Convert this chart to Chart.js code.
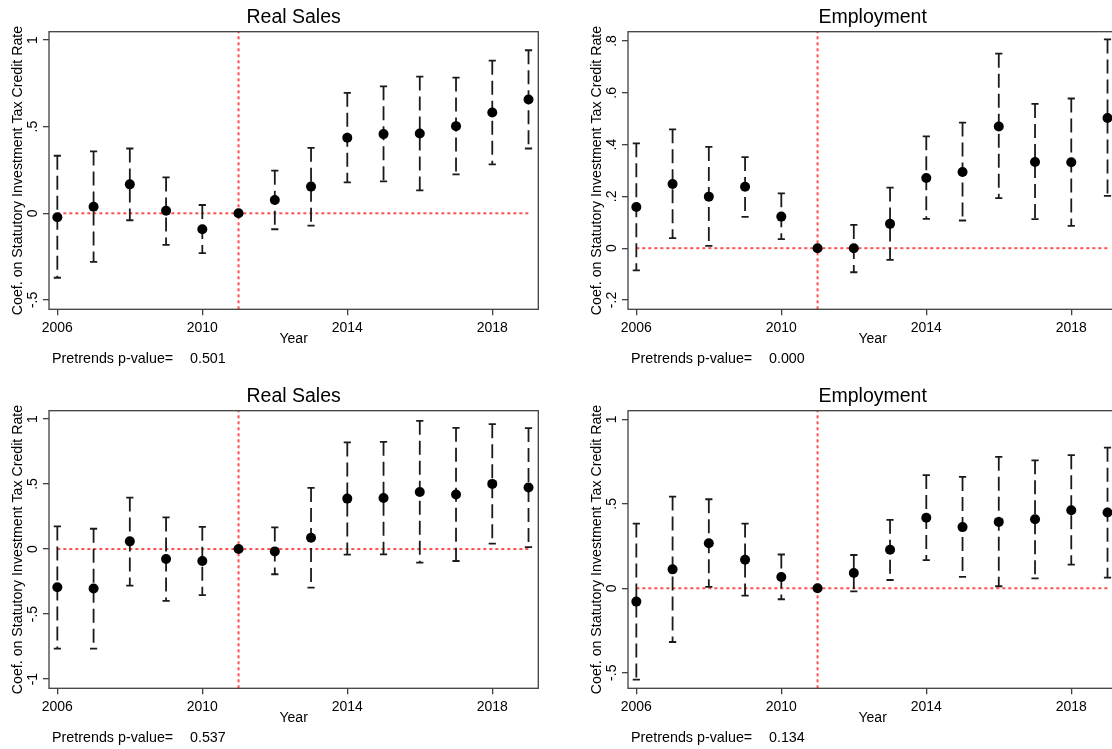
<!DOCTYPE html>
<html>
<head>
<meta charset="utf-8">
<script src="https://cdn.jsdelivr.net/npm/chart.js@4/dist/chart.umd.min.js"></script>
<style>
    html, body { margin: 0; padding: 0; background: #fff; overflow: hidden; }
    body { width: 1112px; height: 749px; position: relative; }
    canvas { position: absolute; }
</style>
</head>
<body>
<canvas id="salesTop" width="556" height="372" style="left:0;top:0"></canvas>
<canvas id="empTop" width="556" height="372" style="left:579px;top:0"></canvas>
<canvas id="salesBottom" width="556" height="372" style="left:0;top:379px"></canvas>
<canvas id="empBottom" width="556" height="372" style="left:579px;top:379px"></canvas>
<script>
const years = [2006, 2007, 2008, 2009, 2010, 2011, 2012, 2013, 2014, 2015, 2016, 2017, 2018, 2019];
const xTicks = [2006, 2010, 2014, 2018];
const eventYear = 2011;

// top row
const salesTop = [-0.023, 0.038, 0.167, 0.015, -0.092, 0, 0.077, 0.154, 0.436, 0.457, 0.461, 0.503, 0.582, 0.657];
const salesTopHi = [0.332, 0.357, 0.374, 0.207, 0.048, null, 0.246, 0.378, 0.695, 0.733, 0.789, 0.783, 0.881, 0.941];
const salesTopLo = [-0.372, -0.280, -0.040, -0.182, -0.230, null, -0.092, -0.071, 0.179, 0.184, 0.132, 0.225, 0.282, 0.374];
const salesTopTicks = [-0.5, 0, 0.5, 1];

const empTop = [0.159, 0.248, 0.199, 0.237, 0.122, 0, 0.0, 0.094, 0.271, 0.294, 0.470, 0.333, 0.332, 0.503];
const empTopHi = [0.405, 0.459, 0.391, 0.352, 0.212, null, 0.090, 0.234, 0.432, 0.485, 0.751, 0.557, 0.578, 0.806];
const empTopLo = [-0.086, 0.039, 0.009, 0.121, 0.035, null, -0.093, -0.045, 0.113, 0.107, 0.193, 0.112, 0.086, 0.202];
const empTopTicks = [-0.2, 0, 0.2, 0.4, 0.6, 0.8];

// bottom row
const salesBottom = [-0.294, -0.304, 0.059, -0.077, -0.092, 0, -0.018, 0.087, 0.388, 0.393, 0.439, 0.419, 0.501, 0.473];
const salesBottomHi = [0.174, 0.156, 0.396, 0.243, 0.171, null, 0.166, 0.470, 0.820, 0.825, 0.986, 0.932, 0.960, 0.930];
const salesBottomLo = [-0.766, -0.766, -0.281, -0.398, -0.355, null, -0.194, -0.296, -0.043, -0.041, -0.105, -0.092, 0.041, 0.015];
const salesBottomTicks = [-1, -0.5, 0, 0.5, 1];

const empBottom = [-0.079, 0.112, 0.267, 0.169, 0.067, 0, 0.090, 0.228, 0.417, 0.362, 0.393, 0.409, 0.462, 0.448];
const empBottomHi = [0.383, 0.543, 0.527, 0.383, 0.200, null, 0.197, 0.405, 0.670, 0.659, 0.778, 0.757, 0.788, 0.832];
const empBottomLo = [-0.541, -0.318, 0.008, -0.043, -0.065, null, -0.018, 0.049, 0.167, 0.067, 0.012, 0.059, 0.140, 0.063];
const empBottomTicks = [-0.5, 0, 0.5, 1];

const pValues = ['0.501', '0.000', '0.537', '0.134'];

const FONT = '"Liberation Sans", Arial, sans-serif';
Chart.defaults.font.family = FONT;
Chart.defaults.color = '#000';

// stata style labels: .5 instead of 0.5
function fmt(v) {
    return String(Math.round(v * 100) / 100).replace(/^(-?)0\./, '$1.');
}

// frame, panel title, rotated y labels and the p-value note
const frame = {
    id: 'frame',
    afterDraw(chart, args, opts) {
        const { ctx, chartArea: a } = chart;
        const y = chart.scales.y;
        ctx.save();
        ctx.strokeStyle = '#404040';
        ctx.lineWidth = 1.3;
        ctx.strokeRect(a.left, a.top, a.right - a.left, a.bottom - a.top);

        ctx.fillStyle = '#000';
        ctx.textAlign = 'center';
        ctx.textBaseline = 'middle';
        ctx.font = '19.5px ' + FONT;
        ctx.fillText(opts.title, (a.left + a.right) / 2, 18);

        ctx.font = '14px ' + FONT;
        ctx.textBaseline = 'alphabetic';
        y.ticks.forEach(t => {
            ctx.save();
            ctx.translate(a.left - 12.5, y.getPixelForValue(t.value));
            ctx.rotate(-Math.PI / 2);
            ctx.fillText(fmt(t.value), 0, 0);
            ctx.restore();
        });

        ctx.textAlign = 'left';
        ctx.textBaseline = 'middle';
        ctx.font = '14.3px ' + FONT;
        ctx.fillText('Pretrends p-value=', 52, 359.5);
        ctx.fillText(opts.p, 190, 359.5);
        ctx.restore();
    }
};

function makePanel(id, title, coef, hi, lo, yMin, yMax, yTicks, p) {
    const points = years.map((yr, i) => ({ x: yr, y: coef[i] }));
    const bars = [];
    const caps = [];
    years.forEach((yr, i) => {
        if (hi[i] === null) return;
        bars.push({ x: yr, y: hi[i] }, { x: yr, y: lo[i] }, { x: yr, y: null });
        caps.push({ x: yr, y: hi[i] }, { x: yr, y: lo[i] });
    });

    new Chart(document.getElementById(id), {
        type: 'line',
        data: {
            datasets: [{
                data: points,
                showLine: false,
                pointRadius: 5,
                pointBackgroundColor: '#000',
                pointBorderColor: '#000',
                pointBorderWidth: 0,
            }, {
                data: caps,
                showLine: false,
                pointStyle: 'line',
                pointRadius: 3.6,
                pointBorderWidth: 1.8,
                pointBorderColor: '#1a1a1a',
            }, {
                data: bars,
                borderColor: '#1a1a1a',
                borderWidth: 1.8,
                borderDash: [14, 6],
                pointRadius: 0,
                spanGaps: false,
            }, {
                data: [{ x: years[0], y: 0 }, { x: years[years.length - 1], y: 0 }],
                borderColor: 'rgba(255, 60, 60, 0.9)',
                borderWidth: 2,
                borderDash: [3, 3],
                pointRadius: 0,
            }, {
                data: [{ x: eventYear, y: yMin }, { x: eventYear, y: yMax }],
                borderColor: 'rgba(255, 60, 60, 0.9)',
                borderWidth: 2,
                borderDash: [3, 3],
                pointRadius: 0,
            }]
        },
        options: {
            responsive: false,
            animation: false,
            events: [],
            layout: { padding: { left: 0, right: 17.7, top: 31.7, bottom: 0 } },
            plugins: {
                legend: { display: false },
                tooltip: { enabled: false },
                title: { display: false },
                frame: { p: p, title: title }
            },
            scales: {
                x: {
                    type: 'linear',
                    min: 2005.77,
                    max: 2019.27,
                    afterBuildTicks: s => { s.ticks = xTicks.map(v => ({ value: v })); },
                    afterFit: s => { s.height = 62.7; },
                    ticks: {
                        font: { size: 14 },
                        padding: 4.5,
                        maxRotation: 0,
                        callback: v => String(v)
                    },
                    grid: {
                        drawOnChartArea: false,
                        drawTicks: true,
                        tickLength: 6,
                        color: '#404040',
                        lineWidth: 1.3
                    },
                    border: { display: false },
                    title: {
                        display: true,
                        text: 'Year',
                        font: { size: 14 },
                        padding: { top: 0, bottom: 24 }
                    }
                },
                y: {
                    type: 'linear',
                    min: yMin,
                    max: yMax,
                    afterBuildTicks: s => { s.ticks = yTicks.map(v => ({ value: v })); },
                    afterFit: s => { s.width = 49; },
                    ticks: { display: false },
                    grid: {
                        drawOnChartArea: false,
                        drawTicks: true,
                        tickLength: 6,
                        color: '#404040',
                        lineWidth: 1.3
                    },
                    border: { display: false },
                    title: {
                        display: true,
                        text: 'Coef. on Statutory Investment Tax Credit Rate',
                        font: { size: 14.2 },
                        padding: { top: 9.4, bottom: 0 }
                    }
                }
            }
        },
        plugins: [frame]
    });
}

makePanel('salesTop', 'Real Sales', salesTop, salesTopHi, salesTopLo, -0.554, 1.048, salesTopTicks, pValues[0]);
makePanel('empTop', 'Employment', empTop, empTopHi, empTopLo, -0.236, 0.836, empTopTicks, pValues[1]);
makePanel('salesBottom', 'Real Sales', salesBottom, salesBottomHi, salesBottomLo, -1.071, 1.064, salesBottomTicks, pValues[2]);
makePanel('empBottom', 'Employment', empBottom, empBottomHi, empBottomLo, -0.592, 1.051, empBottomTicks, pValues[3]);
</script>
</body>
</html>
